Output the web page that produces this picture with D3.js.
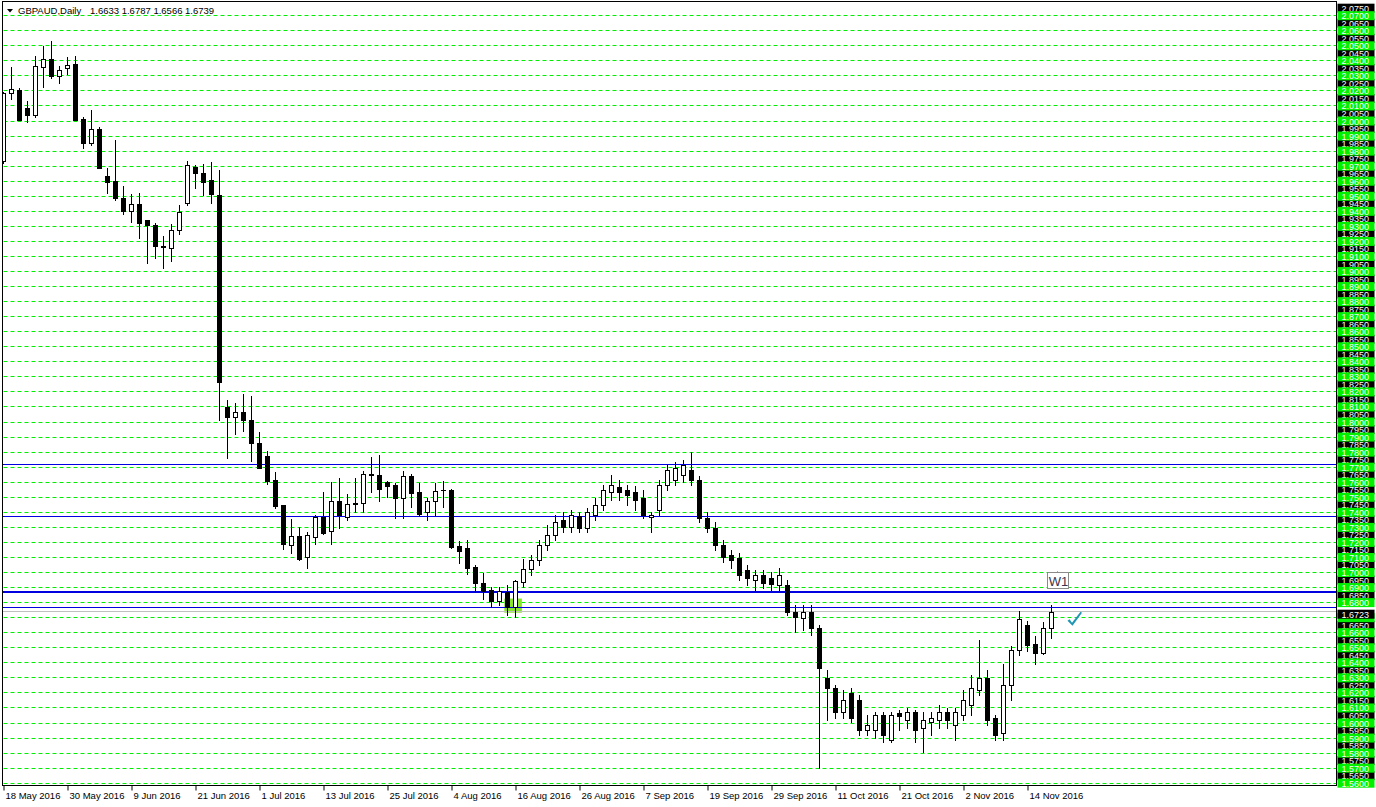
<!DOCTYPE html>
<html>
<head>
<meta charset="utf-8">
<script src="https://cdn.jsdelivr.net/npm/d3@7"></script>
<style>
  body { margin: 0; background: #fff; }
  svg { display: block; font-family: "Liberation Sans", Arial, sans-serif; }
</style>
</head>
<body>
<svg id="chart" width="1376" height="807"></svg>
<script>
// GBPAUD daily candles, 18 May 2016 .. 17 Nov 2016 (weekdays only)
const symbol = 'GBPAUD,Daily';
const firstDay = '2016-05-18';

const opens = [
  1.9736, 2.0184, 2.0207, 2.0084, 2.0042, 2.0362, 2.0411, 2.0296, 2.0351, 2.0380,
  2.0013, 1.9856, 1.9944, 1.9633, 1.9600, 1.9491, 1.9402, 1.9447, 1.9340, 1.9307,
  1.9171, 1.9158, 1.9278, 1.9456, 1.9696, 1.9658, 1.9607, 1.9507, 1.8100, 1.8033,
  1.8067, 1.8016, 1.7860, 1.7776, 1.7613, 1.7449, 1.7182, 1.7240, 1.7104, 1.7233,
  1.7371, 1.7273, 1.7473, 1.7367, 1.7456, 1.7460, 1.7653, 1.7649, 1.7600, 1.7582,
  1.7493, 1.7642, 1.7533, 1.7404, 1.7473, 1.7547, 1.7547, 1.7173, 1.7160, 1.7036,
  1.6933, 1.6882, 1.6811, 1.6871, 1.6771, 1.6938, 1.7022, 1.7083, 1.7183, 1.7249,
  1.7349, 1.7302, 1.7376, 1.7296, 1.7382, 1.7449, 1.7535, 1.7569, 1.7549, 1.7535,
  1.7495, 1.7369, 1.7415, 1.7582, 1.7615, 1.7648, 1.7681, 1.7615, 1.7362, 1.7296,
  1.7183, 1.7117, 1.7097, 1.7017, 1.6950, 1.6984, 1.6964, 1.6917, 1.6917, 1.6738,
  1.6698, 1.6738, 1.6632, 1.6299, 1.6233, 1.6073, 1.6200, 1.6153, 1.5954, 1.5954,
  1.6054, 1.5887, 1.6067, 1.6020, 1.6073, 1.5967, 1.6007, 1.6020, 1.6073, 1.5987,
  1.6054, 1.6120, 1.6219, 1.6299, 1.6034, 1.5934, 1.6253, 1.6485, 1.6652, 1.6525,
  1.6468, 1.6633
];
const highs = [
  2.0196, 2.0356, 2.0218, 2.0133, 2.0433, 2.0496, 2.0533, 2.0367, 2.0424, 2.0433,
  2.0029, 2.0073, 1.9958, 1.9689, 1.9873, 1.9567, 1.9513, 1.9524, 1.9344, 1.9322,
  1.9233, 1.9313, 1.9440, 1.9733, 1.9707, 1.9713, 1.9727, 1.9673, 1.8149, 1.8127,
  1.8187, 1.8176, 1.7933, 1.7809, 1.7667, 1.7449, 1.7353, 1.7304, 1.7269, 1.7382,
  1.7533, 1.7604, 1.7627, 1.7522, 1.7627, 1.7676, 1.7767, 1.7782, 1.7609, 1.7593,
  1.7676, 1.7656, 1.7593, 1.7493, 1.7593, 1.7607, 1.7553, 1.7209, 1.7216, 1.7049,
  1.7000, 1.6904, 1.6904, 1.6916, 1.6949, 1.7093, 1.7117, 1.7216, 1.7316, 1.7382,
  1.7402, 1.7415, 1.7402, 1.7429, 1.7495, 1.7582, 1.7648, 1.7615, 1.7582, 1.7575,
  1.7549, 1.7402, 1.7615, 1.7715, 1.7735, 1.7748, 1.7801, 1.7642, 1.7402, 1.7336,
  1.7216, 1.7150, 1.7130, 1.7050, 1.7017, 1.7017, 1.7004, 1.7030, 1.6950, 1.6784,
  1.6784, 1.6784, 1.6652, 1.6353, 1.6253, 1.6219, 1.6233, 1.6186, 1.6054, 1.6073,
  1.6073, 1.6073, 1.6087, 1.6100, 1.6087, 1.6073, 1.6073, 1.6120, 1.6100, 1.6100,
  1.6219, 1.6319, 1.6552, 1.6353, 1.6054, 1.6392, 1.6512, 1.6745, 1.6678, 1.6578,
  1.6674, 1.6787
];
const lows = [
  1.9718, 2.0147, 2.0007, 1.9996, 2.0029, 2.0229, 2.0289, 2.0251, 2.0311, 2.0007,
  1.9824, 1.9838, 1.9691, 1.9522, 1.9478, 1.9384, 1.9329, 1.9224, 1.9056, 1.9089,
  1.9022, 1.9073, 1.9247, 1.9444, 1.9556, 1.9509, 1.9456, 1.8013, 1.7760, 1.7922,
  1.7938, 1.7742, 1.7693, 1.7587, 1.7431, 1.7156, 1.7127, 1.7082, 1.7031, 1.7187,
  1.7253, 1.7187, 1.7293, 1.7349, 1.7404, 1.7402, 1.7538, 1.7476, 1.7504, 1.7360,
  1.7360, 1.7438, 1.7378, 1.7349, 1.7382, 1.7438, 1.7160, 1.7060, 1.6993, 1.6871,
  1.6827, 1.6771, 1.6782, 1.6720, 1.6704, 1.6904, 1.6984, 1.7050, 1.7150, 1.7216,
  1.7269, 1.7269, 1.7269, 1.7269, 1.7349, 1.7415, 1.7482, 1.7482, 1.7449, 1.7415,
  1.7362, 1.7269, 1.7382, 1.7549, 1.7582, 1.7602, 1.7582, 1.7336, 1.7269, 1.7150,
  1.7070, 1.7030, 1.6950, 1.6917, 1.6884, 1.6897, 1.6884, 1.6884, 1.6718, 1.6605,
  1.6618, 1.6585, 1.5701, 1.6020, 1.6034, 1.6034, 1.6007, 1.5920, 1.5920, 1.5901,
  1.5874, 1.5874, 1.5954, 1.5967, 1.5874, 1.5807, 1.5920, 1.5967, 1.5967, 1.5887,
  1.6020, 1.6054, 1.6186, 1.5987, 1.5887, 1.5887, 1.6153, 1.6452, 1.6481, 1.6392,
  1.6459, 1.6566
];
const closes = [
  2.0184, 2.0211, 2.0007, 2.0042, 2.0367, 2.0411, 2.0296, 2.0338, 2.0373, 2.0007,
  1.9856, 1.9944, 1.9691, 1.9596, 1.9491, 1.9402, 1.9447, 1.9322, 1.9309, 1.9169,
  1.9162, 1.9278, 1.9396, 1.9707, 1.9656, 1.9596, 1.9516, 1.8268, 1.8031, 1.8067,
  1.8011, 1.7858, 1.7693, 1.7611, 1.7444, 1.7187, 1.7244, 1.7093, 1.7247, 1.7367,
  1.7264, 1.7473, 1.7384, 1.7453, 1.7460, 1.7653, 1.7647, 1.7553, 1.7578, 1.7493,
  1.7640, 1.7531, 1.7391, 1.7473, 1.7544, 1.7549, 1.7169, 1.7144, 1.7031, 1.6931,
  1.6878, 1.6811, 1.6876, 1.6771, 1.6942, 1.7022, 1.7083, 1.7183, 1.7249, 1.7336,
  1.7302, 1.7382, 1.7296, 1.7402, 1.7449, 1.7549, 1.7582, 1.7535, 1.7515, 1.7482,
  1.7382, 1.7382, 1.7582, 1.7681, 1.7695, 1.7715, 1.7615, 1.7362, 1.7296, 1.7183,
  1.7103, 1.7083, 1.6984, 1.6964, 1.6984, 1.6931, 1.6924, 1.6984, 1.6738, 1.6705,
  1.6738, 1.6632, 1.6366, 1.6233, 1.6073, 1.6153, 1.6034, 1.5954, 1.5987, 1.6054,
  1.5920, 1.6054, 1.6047, 1.6073, 1.5954, 1.6020, 1.6034, 1.6073, 1.6020, 1.6073,
  1.6153, 1.6233, 1.6299, 1.6020, 1.5920, 1.6253, 1.6485, 1.6689, 1.6518, 1.6468,
  1.6632, 1.6739
];

// horizontal line objects
const blueLevels = [1.7720, 1.7373, 1.6871, 1.6769];
const bidLabel = 1.6723;
// green rectangle object: [bar from, bar to, price top, price bottom]
const boxObject = [62.6, 64.8, 1.6827, 1.6733];
const textObject = { text: 'W1', bar: 131.8, price: 1.6998 };
const checkObject = { bar: 133, price: 1.6712 };

const bars = opens.map((o, i) => ({ i, o, h: highs[i], l: lows[i], c: closes[i] }));

// weekday calendar for the x labels
const dates = [];
for (let d = new Date(firstDay + 'T12:00:00'); dates.length < bars.length; d.setDate(d.getDate() + 1)) {
  if (d.getDay() !== 0 && d.getDay() !== 6) dates.push(new Date(d));
}
const fmtDate = d3.timeFormat('%-d %b %Y');

const svg = d3.select('#chart');
const plotL = 2.5, plotT = 1.5, plotR = 1336.5, plotB = 785.5;

const x = d3.scaleLinear().domain([0, bars.length - 1]).range([3.5, 3.5 + 8 * (bars.length - 1)]);
const y = d3.scaleLinear().domain([2.07, 1.56]).range([15.7, 783.2]);
const crisp = v => Math.floor(v) + 0.5;

svg.append('rect').attr('width', 1376).attr('height', 807).attr('fill', '#fff');

svg.append('defs').append('clipPath').attr('id', 'plot')
  .append('rect').attr('x', plotL + 0.5).attr('y', plotT + 0.5)
  .attr('width', plotR - plotL - 1).attr('height', plotB - plotT - 1);

const g = svg.append('g').attr('clip-path', 'url(#plot)');

// green dashed levels every 0.01
const gridLevels = d3.range(156, 208).map(k => k / 100);
g.append('g').selectAll('line').data(gridLevels).enter().append('line')
  .attr('x1', plotL + 1).attr('x2', plotR)
  .attr('y1', d => crisp(y(d))).attr('y2', d => crisp(y(d)))
  .attr('stroke', '#00ee00').attr('stroke-dasharray', '4,3');

// green rectangle
g.append('rect')
  .attr('x', x(boxObject[0])).attr('width', x(boxObject[1]) - x(boxObject[0]))
  .attr('y', y(boxObject[2])).attr('height', y(boxObject[3]) - y(boxObject[2]))
  .attr('fill', '#8ae62a');

// bid line
const lastClose = closes[closes.length - 1];
g.append('line').attr('x1', plotL).attr('x2', plotR)
  .attr('y1', crisp(y(lastClose))).attr('y2', crisp(y(lastClose)))
  .attr('stroke', '#c0c0c0');

// blue lines
g.append('g').selectAll('line').data(blueLevels).enter().append('line')
  .attr('x1', plotL).attr('x2', plotR)
  .attr('y1', (d, k) => k === 2 ? Math.round(y(d)) : crisp(y(d)))
  .attr('y2', (d, k) => k === 2 ? Math.round(y(d)) : crisp(y(d)))
  .attr('stroke', '#0000e0').attr('stroke-width', (d, k) => k === 2 ? 2 : 1);

// candles
const candle = g.append('g').attr('shape-rendering', 'crispEdges')
  .selectAll('g').data(bars).enter().append('g');

candle.append('line')
  .attr('x1', d => x(d.i)).attr('x2', d => x(d.i))
  .attr('y1', d => Math.round(y(d.h))).attr('y2', d => Math.round(y(d.l)) + 1)
  .attr('stroke', '#000');

candle.append('rect')
  .attr('x', d => x(d.i) - 2).attr('width', 4)
  .attr('y', d => Math.round(y(Math.max(d.o, d.c))) + 0.5)
  .attr('height', d => Math.max(0.01, Math.round(y(Math.min(d.o, d.c))) - Math.round(y(Math.max(d.o, d.c)))))
  .attr('fill', d => d.c >= d.o ? '#fff' : '#000')
  .attr('stroke', '#000');

// W1 text object
const tx = x(textObject.bar), ty = y(textObject.price);
svg.append('line').attr('x1', crisp(tx)).attr('x2', crisp(tx)).attr('y1', ty - 1.5).attr('y2', ty + 1)
  .attr('stroke', '#888');
svg.append('rect').attr('x', crisp(tx) - 10).attr('y', crisp(ty)).attr('width', 21).attr('height', 16)
  .attr('fill', '#fff').attr('stroke', '#8a8a8a');
svg.append('text').attr('x', tx + 0.5).attr('y', ty + 13).attr('text-anchor', 'middle')
  .attr('font-size', 13).attr('fill', '#3a3450').text(textObject.text);

// check arrow
const cx = x(checkObject.bar), cy = y(checkObject.price);
svg.append('path')
  .attr('transform', `translate(${cx},${cy})`)
  .attr('d', 'M0,5 L2,3.5 L4.5,7 L13,-4 L14.5,-3 L5,10 Z')
  .attr('fill', '#2196b4');

// price scale labels: black ones first, green line labels over them, bid label on top
const scale = svg.append('g');
const blackLevels = d3.range(1565, 2080, 10).map(k => k / 1000)
  .filter(p => Math.abs(p - bidLabel) > 0.003);
function priceLabel(p, fill) {
  const yc = y(p);
  scale.append('rect').attr('x', 1337.5).attr('y', yc - 4.5).attr('width', 37).attr('height', 9)
    .attr('fill', fill);
  scale.append('text').attr('x', 1341.5).attr('y', yc + 3.5).attr('font-size', 9)
    .attr('fill', '#fff').text(p.toFixed(4));
}
blackLevels.forEach(p => priceLabel(p, '#000'));
gridLevels.filter(p => Math.abs(p - bidLabel) > 0.003).forEach(p => priceLabel(p, '#00f000'));
gridLevels.filter(p => Math.abs(p - bidLabel) <= 0.003).forEach(p => {
  const yc = y(p);
  scale.append('rect').attr('x', 1337.5).attr('y', yc - 4.5).attr('width', 37).attr('height', 9)
    .attr('fill', '#00f000');
});
priceLabel(bidLabel, '#000');

// time axis
const xAxis = d3.axisBottom(x)
  .tickValues(d3.range(0, bars.length, 8))
  .tickFormat(i => fmtDate(dates[i]))
  .tickSize(5);
const ax = svg.append('g').attr('transform', `translate(0,${plotB})`).call(xAxis);
ax.select('.domain').remove();
ax.selectAll('.tick line').attr('stroke', '#000');
ax.selectAll('.tick text')
  .attr('text-anchor', 'start').attr('x', 1.5).attr('y', 13).attr('dy', 0)
  .attr('font-family', '"Liberation Sans", Arial, sans-serif')
  .attr('font-size', 9.5).attr('fill', '#000');

// frame
svg.append('rect').attr('x', plotL).attr('y', plotT)
  .attr('width', plotR - plotL).attr('height', plotB - plotT)
  .attr('fill', 'none').attr('stroke', '#000');

// header
svg.append('path').attr('d', 'M7,9 L13,9 L10,12.5 Z').attr('fill', '#000');
const last = bars[bars.length - 1];
svg.append('text').attr('x', 18).attr('y', 14).attr('font-size', 9.5).attr('fill', '#000')
  .text(symbol);
svg.append('text').attr('x', 90).attr('y', 14).attr('font-size', 9.5).attr('fill', '#000')
  .text([last.o, last.h, last.l, last.c].map(v => v.toFixed(4)).join(' '));
</script>
</body>
</html>
